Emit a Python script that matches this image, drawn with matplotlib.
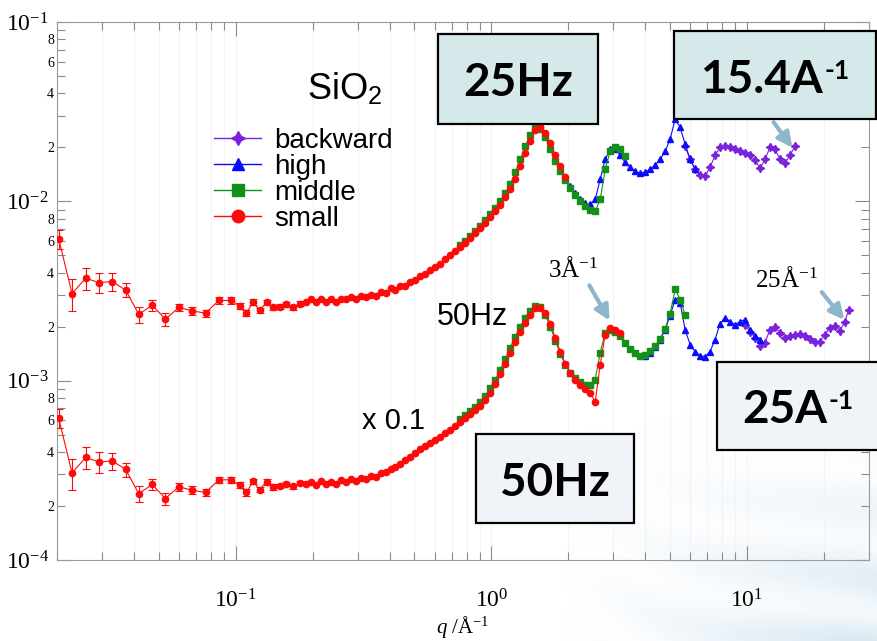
import numpy as np
import matplotlib
matplotlib.use('Agg')
import matplotlib.pyplot as plt
from matplotlib.patches import Rectangle, FancyArrowPatch
from matplotlib.lines import Line2D
from matplotlib.ticker import LogLocator, FuncFormatter, NullFormatter

plt.rcParams['font.family'] = 'Liberation Sans'
plt.rcParams['mathtext.fontset'] = 'custom'
plt.rcParams['mathtext.rm'] = 'Liberation Serif'
plt.rcParams['mathtext.it'] = 'Liberation Serif:italic'
plt.rcParams['mathtext.sf'] = 'Liberation Sans'

# ---- small-angle points (shared by both frequencies), with relative errors
lowq_q = [0.0203, 0.0229, 0.0259, 0.0292, 0.0329, 0.0371, 0.0418, 0.0471, 0.0531, 0.0599,
          0.0675, 0.0762, 0.0859, 0.0955, 0.1037, 0.110, 0.117, 0.124, 0.132, 0.140,
          0.149, 0.158, 0.168, 0.178]
lowq_I = [6.19e-3, 3.06e-3, 3.73e-3, 3.52e-3, 3.57e-3, 3.20e-3, 2.34e-3, 2.64e-3, 2.20e-3, 2.56e-3,
          2.45e-3, 2.38e-3, 2.80e-3, 2.80e-3, 2.61e-3, 2.38e-3, 2.74e-3, 2.47e-3, 2.73e-3, 2.56e-3,
          2.59e-3, 2.66e-3, 2.57e-3, 2.69e-3]
lowq_err = [0.12, 0.20, 0.14, 0.13, 0.11, 0.09, 0.10, 0.07, 0.08, 0.05,
            0.05, 0.045, 0.04, 0.04, 0.04, 0.04, 0.035, 0.035, 0.035, 0.035,
            0.03, 0.03, 0.03, 0.03]

# ---- 25 Hz
small25_q = [0.1877, 0.1963, 0.2053, 0.2148, 0.2246, 0.2350, 0.2458, 0.2571, 0.2690, 0.2813,
             0.2943, 0.3078, 0.3220, 0.3368, 0.3523, 0.3685, 0.3855, 0.4032, 0.4217, 0.4411,
             0.4614, 0.4827, 0.5049, 0.5281, 0.5524, 0.5779, 0.6044, 0.6323, 0.6613, 0.6918,
             0.7236, 0.7569, 0.7917, 0.8281, 0.8660, 0.9058, 0.9475, 0.9910, 1.037, 1.084,
             1.134, 1.186, 1.241, 1.298, 1.358, 1.420, 1.486, 1.554, 1.625, 1.700,
             1.778, 1.860, 1.946]
small25_I = [0.00276, 0.00284, 0.00273, 0.00287, 0.00276, 0.00284, 0.00273, 0.00287, 0.00284, 0.00291,
             0.00284, 0.00295, 0.00291, 0.00302, 0.00298, 0.00314, 0.00310, 0.00327, 0.00322, 0.00339,
             0.00339, 0.00357, 0.00362, 0.00381, 0.00391, 0.00412, 0.00428, 0.00450, 0.00474, 0.00499,
             0.00526, 0.00553, 0.00583, 0.00621, 0.00663, 0.00707, 0.00754, 0.00814, 0.00879, 0.00950,
             0.01053, 0.01167, 0.01327, 0.01569, 0.01854, 0.02164, 0.02492, 0.02590, 0.02398, 0.02109,
             0.01807, 0.01569, 0.01362]

middle25_q = [0.7569, 0.7917, 0.8281, 0.8660, 0.9058, 0.9475, 0.9910, 1.037, 1.084, 1.134,
              1.186, 1.241, 1.298, 1.358, 1.420, 1.486, 1.554, 1.625, 1.700, 1.778,
              1.860, 1.946, 2.035, 2.129, 2.227, 2.329, 2.436, 2.548, 2.666, 2.788,
              2.916, 3.051, 3.191, 3.338]
middle25_I = [0.00568, 0.00598, 0.00637, 0.00680, 0.00725, 0.00783, 0.00846, 0.00914, 0.01000, 0.01108,
              0.01245, 0.01452, 0.01716, 0.02029, 0.02336, 0.02590, 0.02525, 0.02278, 0.01952, 0.01673,
              0.01471, 0.01310, 0.01182, 0.01080, 0.01000, 0.00938, 0.00891, 0.00879, 0.01026, 0.01510,
              0.01903, 0.02003, 0.01952, 0.01784]

high25_q = [1.625, 1.700, 1.778, 1.860, 1.946, 2.035, 2.129, 2.227, 2.329, 2.436,
            2.548, 2.666, 2.788, 2.916, 3.051, 3.191, 3.338, 3.491, 3.652, 3.820,
            3.995, 4.179, 4.371, 4.573, 4.783, 5.003, 5.233, 5.474, 5.725, 5.989, 6.264]
high25_I = [0.02336, 0.02003, 0.01716, 0.01510, 0.01344, 0.01213, 0.01108, 0.01026, 0.00975, 0.00962,
            0.01026, 0.01327, 0.01716, 0.01952, 0.01952, 0.01807, 0.01652, 0.01549, 0.01471, 0.01434,
            0.01452, 0.01510, 0.01589, 0.01716, 0.01903, 0.02220, 0.02870, 0.02590, 0.02082, 0.01716, 0.01510]

back25_q = [5.725, 5.989, 6.264, 6.552, 6.854, 7.169, 7.499, 7.844, 8.205, 8.582,
            8.977, 9.390, 9.822, 10.27, 10.75, 11.24, 11.76, 12.30, 12.86, 13.46,
            14.07, 14.72, 15.40]
back25_I = [0.02029, 0.01716, 0.01510, 0.01398, 0.01380, 0.01549, 0.01807, 0.02003, 0.02029, 0.02003,
            0.01952, 0.01903, 0.01854, 0.01807, 0.01695, 0.01529, 0.01716, 0.02003, 0.01952, 0.01716,
            0.01631, 0.01807, 0.02029]

# ---- 50 Hz (plotted x 0.1)
small50_q = small25_q + [2.035, 2.129, 2.227, 2.329, 2.436, 2.548, 2.666, 2.788, 2.916, 3.051, 3.191]
small50_I = [0.00266, 0.00273, 0.00262, 0.00276, 0.00266, 0.00273, 0.00266, 0.00280, 0.00273, 0.00284,
             0.00276, 0.00287, 0.00284, 0.00295, 0.00291, 0.00306, 0.00310, 0.00322, 0.00331, 0.00344,
             0.00362, 0.00376, 0.00396, 0.00417, 0.00433, 0.00450, 0.00468, 0.00487, 0.00512, 0.00532,
             0.00560, 0.00590, 0.00621, 0.00654, 0.00689, 0.00725, 0.00783, 0.00857, 0.00962, 0.01094,
             0.01245, 0.01434, 0.01652, 0.01878, 0.02109, 0.02336, 0.02558, 0.02558, 0.02398, 0.02082,
             0.01739, 0.01452, 0.01245, 0.01108, 0.01013, 0.00950, 0.00902, 0.00857, 0.00763, 0.01229,
             0.01807, 0.01978, 0.01928, 0.01854]

middle50_q = [0.7569, 0.7917, 0.8281, 0.8660, 0.9058, 0.9475, 0.9910, 1.037, 1.084, 1.134,
              1.186, 1.241, 1.298, 1.358, 1.420, 1.486, 1.554, 1.625, 1.700, 1.778,
              1.860, 1.946, 2.035, 2.129, 2.227, 2.329, 2.436, 2.548, 2.666, 2.788,
              2.916, 3.051, 3.191, 3.338, 3.491, 3.652, 3.820, 3.995, 4.179, 4.371,
              4.573, 4.783, 5.003, 5.233, 5.474, 5.725]
middle50_I = [0.00614, 0.00646, 0.00680, 0.00716, 0.00763, 0.00825, 0.00914, 0.01013, 0.01152, 0.01327,
              0.01529, 0.01761, 0.02003, 0.02249, 0.02460, 0.02624, 0.02590, 0.02336, 0.02003, 0.01673,
              0.01415, 0.01229, 0.01108, 0.01039, 0.00987, 0.00950, 0.00950, 0.01013, 0.01434, 0.01854,
              0.01928, 0.01878, 0.01784, 0.01631, 0.01510, 0.01434, 0.01380, 0.01398, 0.01471, 0.01569,
              0.01716, 0.01952, 0.02367, 0.03224, 0.02834, 0.02336]

high50_q = [3.995, 4.179, 4.371, 4.573, 4.783, 5.003, 5.233, 5.474, 5.725, 5.989,
            6.264, 6.552, 6.854, 7.169, 7.499, 7.844, 8.205, 8.582, 8.977, 9.390,
            9.822, 10.27, 10.75, 11.24]
high50_I = [0.01380, 0.01434, 0.01549, 0.01695, 0.01928, 0.02307, 0.02834, 0.02728, 0.01928, 0.01589,
            0.01452, 0.01380, 0.01362, 0.01452, 0.01695, 0.02082, 0.02249, 0.02137, 0.02055, 0.02137,
            0.02192, 0.01928, 0.01784, 0.01695]

back50_q = [9.822, 10.27, 10.75, 11.24, 11.76, 12.30, 12.86, 13.46, 14.07, 14.72,
            15.40, 16.11, 16.85, 17.62, 18.43, 19.28, 20.17, 21.10, 22.07, 23.08,
            24.14, 25.0]
back50_I = [0.02055, 0.01878, 0.01739, 0.01569, 0.01631, 0.01928, 0.02003, 0.01854, 0.01739, 0.01784,
            0.01807, 0.01831, 0.01784, 0.01716, 0.01652, 0.01652, 0.01807, 0.01978, 0.02029, 0.01903,
            0.02137, 0.02492]

scale50 = 0.1

c_back, c_high, c_mid, c_small = '#7a22dc', '#0a0aff', '#13901a', '#ff0a0a'

W, H = 877, 641


def fx(x):
    return x / W


def fy(y):
    return 1 - y / H


fig = plt.figure(figsize=(W / 100, H / 100), dpi=100)

# faint slide background in the lower right corner
bg = fig.add_axes([0, 0, 1, 1], zorder=-10)
bg.axis('off')
yy, xx = np.mgrid[0:H, 0:W].astype(float)
wgt = np.clip((xx - 560) / 320, 0, 1) * np.clip((yy - 410) / 230, 0, 1)
streak = 0.5 + 0.5 * np.sin(xx * 0.035 - yy * 0.09 + 2.5 * np.sin(xx * 0.012))
img = np.zeros((H, W, 4))
img[..., 0], img[..., 1], img[..., 2] = 0.74, 0.84, 0.92
img[..., 3] = wgt * (0.2 + 0.4 * streak)
bg.imshow(img, extent=[0, 1, 0, 1], aspect='auto', origin='upper')
bg.set_xlim(0, 1)
bg.set_ylim(0, 1)

ax = fig.add_axes([fx(57), fy(560), (869 - 57) / W, (560 - 22) / H])
ax.set_facecolor('none')
ax.set_xscale('log')
ax.set_yscale('log')
ax.set_xlim(0.02, 30)
ax.set_ylim(1e-4, 1e-1)


def series(q, I, color, marker, f=1.0, ms=4.5):
    ax.plot(q, np.array(I) * f, color=color, marker=marker, ms=ms, lw=0.8,
            mec=color, mfc=color, zorder=3)


star = (4, 1, 0)
for f, bq, bI, hq, hI, mq, mI, sq, sI in [
        (1.0, back25_q, back25_I, high25_q, high25_I, middle25_q, middle25_I, small25_q, small25_I),
        (scale50, back50_q, back50_I, high50_q, high50_I, middle50_q, middle50_I, small50_q, small50_I)]:
    series(bq, bI, c_back, star, f, ms=6)
    series(hq, hI, c_high, '^', f)
    series(mq, mI, c_mid, 's', f, ms=4)
    series(lowq_q + sq, lowq_I + sI, c_small, 'o', f)
    low = np.array(lowq_I) * f
    ax.errorbar(lowq_q, low, yerr=low * np.array(lowq_err), fmt='none',
                ecolor=c_small, elinewidth=0.8, capsize=3, capthick=0.8, zorder=3)

# axes styling
for s in ax.spines.values():
    s.set_color('#9a9a9a')
ax.xaxis.set_major_locator(LogLocator(base=10, numticks=10))
ax.xaxis.set_minor_locator(LogLocator(base=10, subs=np.arange(2, 10), numticks=20))
ax.yaxis.set_major_locator(LogLocator(base=10, numticks=10))
ax.yaxis.set_minor_locator(LogLocator(base=10, subs=np.arange(2, 10), numticks=20))


def major_fmt(v, pos):
    return r'$\mathrm{10^{%d}}$' % int(round(np.log10(v)))


def minor_fmt(v, pos):
    m = int(round(v / 10 ** np.floor(np.log10(v) + 1e-9)))
    return str(m) if m in (2, 4, 6, 8) else ''


ax.xaxis.set_major_formatter(FuncFormatter(major_fmt))
ax.xaxis.set_minor_formatter(NullFormatter())
ax.yaxis.set_major_formatter(FuncFormatter(major_fmt))
ax.yaxis.set_minor_formatter(FuncFormatter(minor_fmt))
ax.tick_params(which='both', direction='in', top=True, right=True, color='#8a8a8a')
ax.tick_params(which='major', length=10, width=0.8, labelsize=17)
ax.tick_params(which='minor', length=6, width=0.8, labelsize=10)
ax.tick_params(axis='x', which='major', pad=21)
ax.tick_params(axis='y', which='major', pad=6)
ax.tick_params(axis='y', which='minor', pad=2)
for lab in ax.get_yticklabels(minor=True):
    lab.set_fontfamily('Liberation Serif')
ax.grid(True, axis='x', which='both', color='#f3f3f3', lw=0.8, zorder=0)
ax.set_axisbelow(True)
ax.set_xlabel(r'$q$ /Å$^{\mathrm{-1}}$', fontfamily='Liberation Serif', fontsize=15, labelpad=1)

handles = [Line2D([], [], color=c_back, marker=star, ms=10, lw=1),
           Line2D([], [], color=c_high, marker='^', ms=9, lw=1),
           Line2D([], [], color=c_mid, marker='s', ms=8, lw=1),
           Line2D([], [], color=c_small, marker='o', ms=9, lw=1)]
ax.legend(handles, ['backward', 'high', 'middle', 'small'], loc='upper left',
          bbox_to_anchor=(fx(214), fy(128)), bbox_transform=fig.transFigure,
          frameon=False, fontsize=20, handlelength=1.7, handletextpad=0.45,
          labelspacing=0.0, borderpad=0, borderaxespad=0)

# plain annotations
fig.text(fx(307), fy(100), r'SiO$_\mathsf{2}$', fontsize=26, va='baseline')
fig.text(fx(437), fy(325), '50Hz', fontsize=22, va='baseline')
fig.text(fx(362), fy(429), 'x 0.1', fontsize=21, va='baseline')
fig.text(fx(548), fy(277), r'3Å$^{\mathrm{-1}}$', fontsize=18, va='baseline',
         fontfamily='Liberation Serif')
fig.text(fx(755), fy(287), r'25Å$^{\mathrm{-1}}$', fontsize=18, va='baseline',
         fontfamily='Liberation Serif')

arrow_col = '#8db6cd'
for (x0, y0), (x1, y1) in [((588, 283), (611, 323)), ((820, 290), (846, 322)),
                           ((772, 120), (794, 150))]:
    fig.add_artist(FancyArrowPatch((fx(x0), fy(y0)), (fx(x1), fy(y1)),
                                   transform=fig.transFigure, arrowstyle='-|>',
                                   mutation_scale=22, lw=3, color=arrow_col, zorder=9))


# framed labels
def box(x0, y0, x1, y1, fc, text, tx, ty, sup=None):
    fig.add_artist(Rectangle((fx(x0), fy(y1)), (x1 - x0) / W, (y1 - y0) / H,
                             transform=fig.transFigure, fc=fc, ec='black', lw=1.6, zorder=10))
    t = fig.text(fx(tx), fy(ty), text, fontsize=33, fontfamily='Lato', fontweight='bold',
                 va='baseline', zorder=11)
    if sup:
        fig.add_artist(plt.Annotation(sup, xy=(1.0, 1.0), xycoords=t, xytext=(1, 0),
                                      textcoords='offset points', fontsize=19, fontfamily='Lato',
                                      fontweight='bold', va='top', ha='left', zorder=11))


box(438, 34, 598, 124, '#d5e9eb', '25Hz', 463, 96)
box(674, 31, 876, 119, '#d5e9eb', '15.4A', 700, 93, '-1')
box(476, 434, 634, 523, '#f0f4f8', '50Hz', 500, 496)
box(717, 362, 890, 450, '#f0f4f8', '25A', 742, 423, '-1')

fig.savefig('out.png', dpi=100)
